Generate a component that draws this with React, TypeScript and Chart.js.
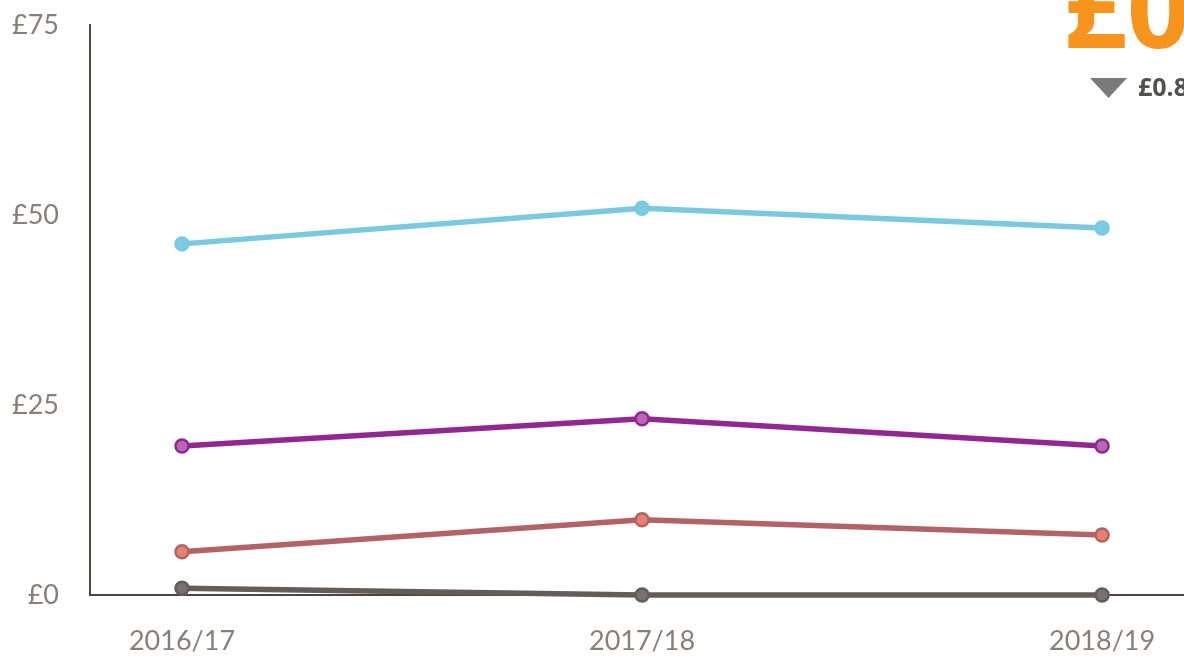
import React, { useEffect, useRef } from "react";
import { Chart, registerables } from "chart.js";

Chart.register(...registerables);

const categories = ["2016/17", "2017/18", "2018/19"];
const yTicks = [0, 25, 50, 75];
const seriesBlue = [46.2, 50.9, 48.3];
const seriesPurple = [19.6, 23.2, 19.6];
const seriesRed = [5.7, 9.9, 7.9];
const seriesDark = [0.9, 0, 0];
const headlineText = "£0";
const changeText = "£0.8";

const W = 1184;
const H = 659;

const overlayPlugin = {
  id: "overlay",
  afterDraw(chart: any) {
    const ctx = chart.ctx;
    ctx.save();
    ctx.fillStyle = "#f7941d";
    ctx.font = "bold 110px 'Open Sans', sans-serif";
    ctx.textBaseline = "alphabetic";
    ctx.textAlign = "left";
    ctx.fillText(headlineText, 1064, 48);
    ctx.fillStyle = "#7a7a7a";
    ctx.beginPath();
    ctx.moveTo(1090, 78);
    ctx.lineTo(1127, 78);
    ctx.lineTo(1108.5, 98);
    ctx.closePath();
    ctx.fill();
    ctx.fillStyle = "#555050";
    ctx.font = "bold 25px 'Open Sans', sans-serif";
    ctx.textBaseline = "middle";
    ctx.fillText(changeText, 1138, 89);
    ctx.restore();
  },
};

function mk(data: number[], line: string, fill: string) {
  return {
    data: data.map((v, i) => ({ x: i, y: v })),
    borderColor: line,
    backgroundColor: fill,
    pointBackgroundColor: fill,
    pointBorderColor: line,
    pointBorderWidth: 2.5,
    pointRadius: 6.5,
    borderWidth: 5.5,
    tension: 0,
    clip: false as any,
  };
}

export default function App() {
  const ref = useRef<HTMLCanvasElement>(null);
  useEffect(() => {
    if (!ref.current) return;
    const chart = new Chart(ref.current, {
      type: "line",
      data: {
        datasets: [
          mk(seriesDark, "#645c58", "#7a7270"),
          mk(seriesRed, "#b36265", "#e8806f"),
          mk(seriesPurple, "#922791", "#b867b5"),
          mk(seriesBlue, "#7ac9e3", "#7ccbe5"),
        ] as any,
      },
      options: {
        animation: false,
        responsive: false,
        maintainAspectRatio: false,
        layout: { autoPadding: false, padding: { top: 25, right: 0, left: 0, bottom: 0 } },
        plugins: { legend: { display: false }, tooltip: { enabled: false } },
        scales: {
          x: {
            type: "linear",
            min: -0.2,
            max: 2.178,
            afterBuildTicks: (axis: any) => {
              axis.ticks = categories.map((_, i) => ({ value: i }));
            },
            afterFit: (axis: any) => {
              axis.height = H - 595;
              axis.paddingLeft = 0;
              axis.paddingRight = 0;
            },
            grid: { display: false, drawTicks: false },
            border: { display: true, color: "#4f4540", width: 2 },
            ticks: {
              padding: 30,
              color: "#8a7f76",
              font: { family: "Lato", size: 27, weight: 400 as any },
              callback: (v: any) => categories[v] ?? "",
              maxRotation: 0,
              autoSkip: false,
            },
          },
          y: {
            min: 0,
            max: 75,
            afterBuildTicks: (axis: any) => {
              axis.ticks = yTicks.map((v) => ({ value: v }));
            },
            afterFit: (axis: any) => {
              axis.width = 90;
              axis.paddingTop = 0;
              axis.paddingBottom = 0;
            },
            grid: { display: false, drawTicks: false },
            border: { display: true, color: "#4f4540", width: 2 },
            ticks: {
              padding: 31,
              color: "#8a7f76",
              font: { family: "Lato", size: 27, weight: 400 as any },
              callback: (v: any) => "£" + v,
            },
          },
        },
      },
      plugins: [overlayPlugin],
    });
    return () => chart.destroy();
  }, []);
  return (
    <div style={{ position: "fixed", left: 0, top: 0, width: W, height: H, overflow: "hidden", background: "#fff" }}>
      <canvas ref={ref} width={W} height={H} style={{ display: "block" }} />
    </div>
  );
}
